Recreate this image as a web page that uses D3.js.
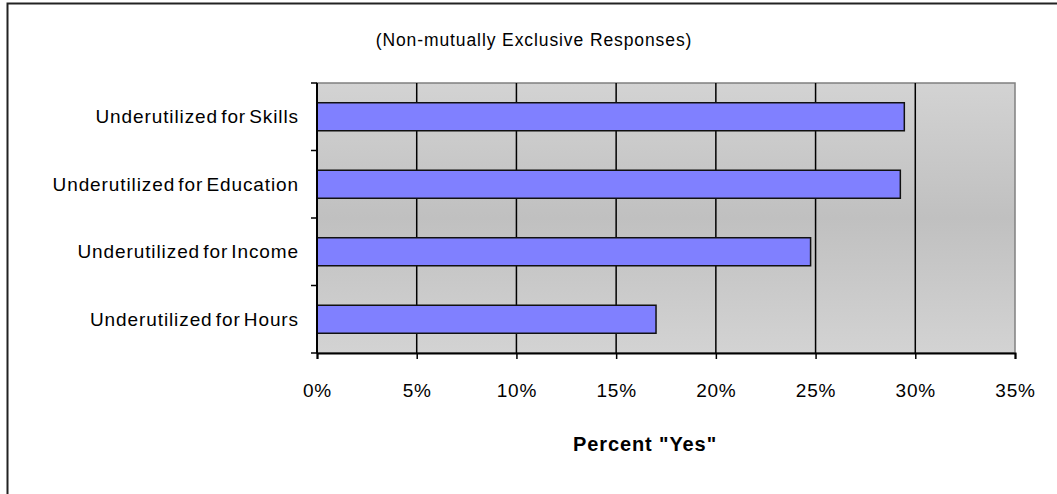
<!DOCTYPE html>
<html>
<head>
<meta charset="utf-8">
<script src="https://cdn.jsdelivr.net/npm/d3@7"></script>
<style>
  body { margin: 0; background: #fff; }
  svg text { font-family: "Liberation Sans", Arial, sans-serif; fill: #000; }
</style>
</head>
<body>
<svg id="chart"></svg>
<script>
const categories = ["Underutilized for Skills", "Underutilized for Education", "Underutilized for Income", "Underutilized for Hours"];
const values = [29.45, 29.25, 24.75, 17.0];
const xTicks = [0, 5, 10, 15, 20, 25, 30, 35];

const width = 1057, height = 494;
const margin = {top: 83, right: 42, bottom: 141, left: 317};

const svg = d3.select("#chart").attr("width", width).attr("height", height);

// outer frame (cut off on the right and bottom)
svg.append("rect")
    .attr("x", 7.5).attr("y", 3.5)
    .attr("width", 1100).attr("height", 600)
    .attr("fill", "none").attr("stroke", "#222").attr("stroke-width", 2);

const plotW = width - margin.left - margin.right,
    plotH = height - margin.top - margin.bottom;

const x = d3.scaleLinear().domain([0, 35]).range([margin.left, margin.left + plotW]);
const y = d3.scaleBand().domain(categories)
    .range([margin.top, margin.top + plotH])
    .paddingInner(0.585).paddingOuter(0.2925);

const grad = svg.append("defs").append("linearGradient")
    .attr("id", "bg").attr("x1", 0).attr("y1", 0).attr("x2", 0).attr("y2", 1);
grad.append("stop").attr("offset", "0%").attr("stop-color", "#d3d3d3");
grad.append("stop").attr("offset", "50%").attr("stop-color", "#c0c0c0");
grad.append("stop").attr("offset", "100%").attr("stop-color", "#d3d3d3");

svg.append("rect")
    .attr("x", margin.left).attr("y", margin.top)
    .attr("width", plotW).attr("height", plotH)
    .attr("fill", "url(#bg)")
    .attr("stroke", "#808080").attr("stroke-width", 1.5);

// vertical gridlines
svg.append("g").selectAll("line")
    .data(xTicks.slice(1, -1))
    .enter().append("line")
    .attr("x1", d => x(d)).attr("x2", d => x(d))
    .attr("y1", margin.top).attr("y2", margin.top + plotH)
    .attr("stroke", "#000").attr("stroke-width", 1.5);

// bars
svg.append("g").selectAll("rect")
    .data(categories)
    .enter().append("rect")
    .attr("x", x(0))
    .attr("y", d => y(d))
    .attr("width", (d, i) => x(values[i]) - x(0))
    .attr("height", y.bandwidth())
    .attr("fill", "#8080ff")
    .attr("stroke", "#111").attr("stroke-width", 1.5);

// x axis
const xAxis = svg.append("g")
    .attr("transform", `translate(0,${margin.top + plotH})`)
    .call(d3.axisBottom(x).tickValues(xTicks).tickFormat(d => d + "%").tickSize(6).tickPadding(25));
xAxis.select(".domain").attr("stroke", "#000").attr("stroke-width", 2);
xAxis.selectAll(".tick line").attr("stroke", "#000").attr("stroke-width", 1.5);
xAxis.selectAll("text").style("font-size", "19px").style("font-family", "Liberation Sans, Arial, sans-serif").attr("letter-spacing", "0.8px");

// y axis: ticks between categories
const step = y.step();
const yBounds = d3.range(categories.length + 1).map(i => margin.top + i * step);
const yAxis = svg.append("g");
yAxis.append("line")
    .attr("x1", margin.left).attr("x2", margin.left)
    .attr("y1", margin.top).attr("y2", margin.top + plotH)
    .attr("stroke", "#000").attr("stroke-width", 2);
yAxis.selectAll(".yt")
    .data(yBounds)
    .enter().append("line")
    .attr("class", "yt")
    .attr("x1", margin.left - 6).attr("x2", margin.left)
    .attr("y1", d => d).attr("y2", d => d)
    .attr("stroke", "#000").attr("stroke-width", 1.5);
yAxis.selectAll("text")
    .data(categories)
    .enter().append("text")
    .attr("x", margin.left - 18)
    .attr("y", d => y(d) + y.bandwidth() / 2)
    .attr("dy", "0.35em")
    .attr("text-anchor", "end")
    .style("font-size", "19px")
    .attr("letter-spacing", "0.9px")
    .attr("word-spacing", "-3px")
    .text(d => d);

// titles
svg.append("text")
    .attr("x", 534).attr("y", 46)
    .attr("text-anchor", "middle")
    .style("font-size", "17.5px")
    .attr("letter-spacing", "0.9px")
    .text("(Non-mutually Exclusive Responses)");

svg.append("text")
    .attr("x", 645).attr("y", 451)
    .attr("text-anchor", "middle")
    .style("font-size", "20px")
    .style("font-weight", "bold")
    .attr("letter-spacing", "0.9px")
    .text("Percent \"Yes\"");
</script>
</body>
</html>
